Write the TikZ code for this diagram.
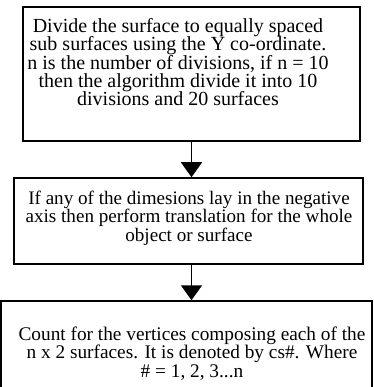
\documentclass[tikz,border=0pt]{standalone}
\usepackage{fontspec}
\setmainfont{Liberation Serif}
\usepackage{tikz}
\usetikzlibrary{arrows.meta,positioning,calc}
\tikzset{
  block/.style={draw=black,line width=1.5pt,fill=white,inner sep=0pt},
  blocktext/.style={inner sep=0pt,align=center,anchor=base,
    font=\fontsize{#1}{18.4}\selectfont},
  blocktext/.default=19.3,
  flowarrow/.style={-{Triangle[width=21pt,length=15pt]},line width=1.5pt,draw=black}
}
\begin{document}
\begin{tikzpicture}[x=1pt,y=-1pt]
\useasboundingbox (0,0) rectangle (373,387);

\node[block, minimum width=337pt, minimum height=134pt] (box1) at (191.5,74) {};
\node[block, minimum width=349pt, minimum height=86pt] (box2) at (188.5,221) {};
\node[block, minimum width=371pt, minimum height=110pt] (box3) at (186.5,356) {};

\node[blocktext=20] (txt1) at (178,106) {Divide the surface to equally spaced\\sub surfaces using the Y co-ordinate.\\n is the number of divisions, if n = 10\\then the algorithm divide it into 10\\divisions and 20 surfaces};
\node[blocktext=19.1] (txt2) at (189,241) {If any of the dimesions lay in the negative\\axis then perform translation for the whole\\object or surface};
\node[blocktext=19.3] (txt3) at (192,377) {Count for the vertices composing each of the\\n x 2 surfaces. It is denoted by cs\#. Where\\\# = 1, 2, 3...n};

\draw[flowarrow] (box1.south) -- (box1.south |- box2.north);
\draw[flowarrow] (box1.south |- box2.south) -- (box1.south |- box3.north);
\end{tikzpicture}
\end{document}
